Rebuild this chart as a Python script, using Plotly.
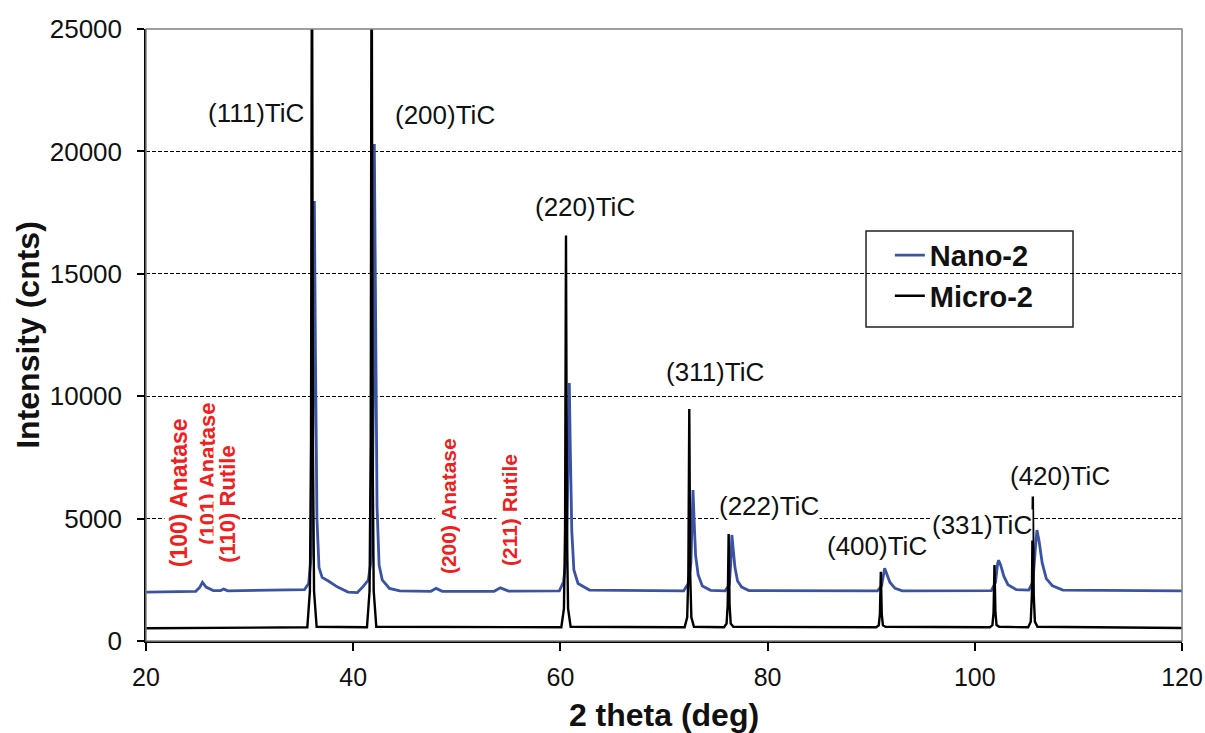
import plotly.graph_objects as go

# ---------------- data ----------------
nano_x = [20.0, 24.8, 25.2, 25.45, 25.8, 26.5, 27.2, 27.5, 27.9,
          35.3, 35.7, 35.95, 36.12, 36.25, 36.35, 36.5, 36.7, 37.0, 37.6, 38.5, 39.5, 40.4,
          40.95, 41.46, 41.8, 41.95, 42.04, 42.15, 42.3, 42.5, 42.8, 43.5, 44.5,
          47.5, 48.0, 48.6, 53.6, 54.2, 55.0,
          59.9, 60.3, 60.6, 60.75, 60.86, 60.95, 61.1, 61.3, 61.7, 62.8,
          71.9, 72.35, 72.6, 72.72, 72.8, 72.9, 73.05, 73.3, 73.7, 74.5,
          75.9, 76.3, 76.45, 76.55, 76.65, 76.85, 77.1, 77.5, 78.2,
          90.6, 91.0, 91.2, 91.3, 91.5, 91.8, 92.3, 93.0,
          101.6, 102.0, 102.2, 102.3, 102.5, 102.8, 103.2, 104.0,
          105.2, 105.6, 105.85, 106.0, 106.2, 106.5, 106.9, 107.5, 108.5, 120.0]
nano_y = [2000, 2030, 2200, 2400, 2200, 2060, 2060, 2120, 2050,
          2100, 2350, 3500, 9000, 17970, 12000, 5000, 3000, 2600, 2450, 2200, 2000, 1980,
          2220, 2490, 3500, 10000, 20300, 13000, 5500, 3100, 2500, 2150, 2050,
          2030, 2150, 2030, 2030, 2170, 2040,
          2050, 2420, 3500, 7000, 10540, 8000, 4500, 2900, 2350, 2080,
          2050, 2350, 3200, 5000, 6170, 5000, 3500, 2700, 2250, 2070,
          2050, 2300, 3200, 4330, 3900, 3000, 2450, 2200, 2060,
          2050, 2250, 2800, 2970, 2750, 2400, 2150, 2050,
          2060, 2400, 3150, 3300, 3100, 2650, 2300, 2100,
          2080, 2400, 3800, 4530, 4100, 3200, 2550, 2250, 2080, 2050]

micro_x = [20.0,
           35.57, 35.82, 35.93, 35.99, 36.02, 36.05, 36.11, 36.22, 36.47,
           41.33, 41.58, 41.69, 41.75, 41.78, 41.81, 41.87, 41.98, 42.23,
           60.09, 60.34, 60.45, 60.51, 60.54, 60.57, 60.63, 60.74, 60.99,
           71.99, 72.24, 72.35, 72.41, 72.44, 72.47, 72.53, 72.64, 72.89,
           75.79, 76.04, 76.15, 76.21, 76.24, 76.27, 76.33, 76.44, 76.69,
           90.48, 90.73, 90.84, 90.90, 90.93, 90.96, 91.02, 91.13, 91.38,
           101.45, 101.70, 101.81, 101.87, 101.90, 101.93, 101.99, 102.10, 102.35,
           105.15, 105.40, 105.51, 105.57, 105.60, 105.63, 105.69, 105.80, 106.05,
           120.0]
micro_y = [520,
           560, 2040, 8140, 23400, 31000, 23400, 8140, 2040, 580,
           560, 2040, 8140, 23400, 31000, 23400, 8140, 2040, 580,
           560, 1320, 4530, 12550, 16560, 12550, 4530, 1320, 580,
           560, 970, 2760, 7240, 9480, 7240, 2760, 970, 580,
           560, 710, 1480, 3410, 4370, 3410, 1480, 710, 580,
           560, 640, 1100, 2250, 2830, 2250, 1100, 640, 580,
           560, 650, 1165, 2455, 3100, 2455, 1165, 650, 580,
           560, 790, 1865, 4555, 5900, 4555, 1865, 790, 580,
           530]

tic_labels = ["(111)TiC", "(200)TiC", "(220)TiC", "(311)TiC",
              "(222)TiC", "(400)TiC", "(331)TiC", "(420)TiC"]
tic_x = [30.6, 48.9, 62.37, 74.9, 80.1, 90.6, 100.74, 108.27]
tic_y = [21570, 21490, 17730, 10990, 5515, 3880, 4740, 6740]

phase_labels = ["(100) Anatase", "(101) Anatase", "(110) Rutile",
                "(200) Anatase", "(211) Rutile"]
phase_x = [23.2, 25.86, 27.9, 49.15, 55.04]
phase_y = [6045, 6820, 5600, 5510, 5350]
phase_size = [23, 22, 22, 21, 21]

x_ticks = [20, 40, 60, 80, 100, 120]
y_ticks = [0, 5000, 10000, 15000, 20000, 25000]

# ---------------- figure ----------------
fig = go.Figure()
fig.add_trace(go.Scatter(x=nano_x, y=nano_y, mode="lines", name="Nano-2",
                         line=dict(color="#3A53A4", width=2.8)))
fig.add_trace(go.Scatter(x=micro_x, y=micro_y, mode="lines", name="Micro-2",
                         line=dict(color="#000000", width=2.4)))

FONT = "Liberation Sans, Arial, sans-serif"

for t, x, y in zip(tic_labels, tic_x, tic_y):
    fig.add_annotation(x=x, y=y, text=t, showarrow=False,
                       font=dict(family=FONT, size=26, color="#111111"),
                       bgcolor="white", borderpad=0)

for t, x, y, s in zip(phase_labels, phase_x, phase_y, phase_size):
    fig.add_annotation(x=x, y=y, text="<b>" + t + "</b>", showarrow=False, textangle=-90,
                       font=dict(family=FONT, size=s, color="#F02020"),
                       bgcolor="white", borderpad=1)

# plot border (grey)
fig.add_shape(type="rect", xref="paper", yref="paper", x0=0, y0=0, x1=1, y1=1,
              line=dict(color="#808080", width=1.5), layer="above")
# legend frame
fig.add_shape(type="rect", xref="paper", yref="paper", x0=0.695, y0=0.513, x1=0.8948, y1=0.670,
              line=dict(color="#222222", width=1.5), fillcolor="white", layer="between")

fig.update_layout(
    width=1205, height=733,
    margin=dict(l=146, r=23, t=29, b=92),
    paper_bgcolor="white", plot_bgcolor="white",
    font=dict(family=FONT, color="#111111"),
    showlegend=True,
    legend=dict(x=0.718, y=0.672, xanchor="left", yanchor="top",
                bgcolor="rgba(0,0,0,0)", borderwidth=0,
                font=dict(family=FONT, size=29, color="#111111", weight="bold"),
                itemwidth=30, tracegroupgap=0),
)
fig.update_xaxes(range=[20, 120], tickvals=x_ticks, ticktext=[str(v) for v in x_ticks],
                 automargin=False,
                 showgrid=False, zeroline=False, showline=True, linecolor="black", linewidth=1.5,
                 ticks="outside", ticklen=8, tickcolor="black", tickwidth=1.5,
                 tickfont=dict(family=FONT, size=25, color="#111111"), ticklabelstandoff=5,
                 title=dict(text="<b>2 theta (deg)</b>", font=dict(family=FONT, size=32, color="#111111"),
                            standoff=14))
fig.update_yaxes(range=[0, 25000], tickvals=y_ticks, ticktext=[str(v) for v in y_ticks],
                 automargin=False,
                 showgrid=True, gridcolor="black", gridwidth=1, griddash="4px,2px",
                 zeroline=False, showline=True, linecolor="black", linewidth=1.5,
                 ticks="outside", ticklen=7, tickcolor="black", tickwidth=1.5,
                 tickfont=dict(family=FONT, size=26, color="#111111"), ticklabelstandoff=10,
                 title=dict(text="<b>Intensity (cnts)</b>", font=dict(family=FONT, size=32, color="#111111"),
                            standoff=1))

fig.write_html("out.html", config={"displayModeBar": False},
               post_script="document.body.style.margin='0';document.body.style.overflow='hidden';")
